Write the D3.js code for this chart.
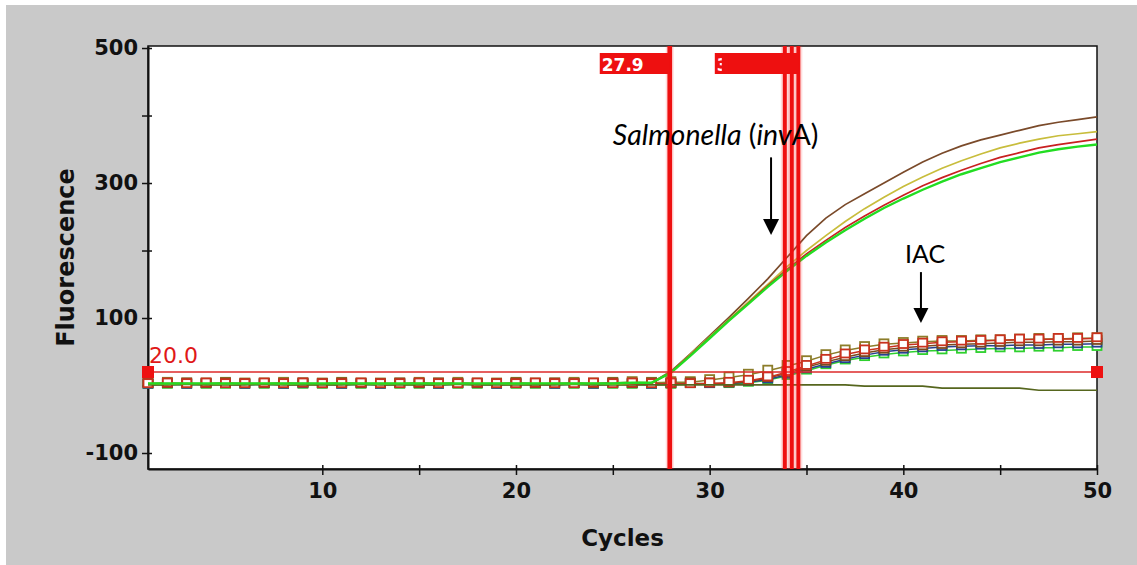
<!DOCTYPE html>
<html>
<head>
<meta charset="utf-8">
<script src="https://cdn.jsdelivr.net/npm/d3@7/dist/d3.min.js"></script>
<style>
  body { margin: 0; background: #fff; }
  svg { display: block; }
</style>
</head>
<body>
<div id="chart"></div>
<script>
// cycle numbers (x categories)
const cycles = [1,2,3,4,5,6,7,8,9,10,11,12,13,14,15,16,17,18,19,20,21,22,23,24,25,
  26,27,28,29,30,31,32,33,34,35,36,37,38,39,40,41,42,43,44,45,46,47,48,49,50];

// Salmonella (invA) channel, plain lines
const salmBrown = [3,2,3,2,2,3,2,2,3,2,2,3,2,2,3,2,2,2,3,2,2,3,2,3,3,3,4,
  21,47,74,101,129,158,190,222,248,268,284,300,316,331,344,355,364,371,378,385,390,394,398];
const salmYellow = [2,2,3,2,2,2,3,2,2,2,3,2,2,2,3,2,2,3,2,2,3,2,2,3,2,3,4,
  20,46,72,98,124,150,176,200,222,243,262,279,295,309,322,333,343,352,359,365,370,373,376];
const salmRed = [2,3,2,2,3,2,2,3,2,2,2,2,3,2,2,3,2,2,2,3,2,2,3,2,3,3,3,
  20,45,71,97,122,148,172,195,215,234,251,267,282,296,308,319,329,338,345,352,357,361,365];
const salmGreen = [3,3,3,3,3,3,3,3,3,3,3,3,3,3,3,3,3,3,3,3,3,3,3,3,3,4,4,
  19,44,70,96,121,146,170,192,212,230,247,263,277,290,302,313,322,331,338,345,350,354,357];
const negative = [1,1,2,1,1,1,2,1,1,1,1,2,1,1,1,1,2,1,1,1,1,1,2,1,1,1,1,1,1,1,1,1,1,
  1,1,1,1,-1,-1,-1,-1,-4,-4,-4,-4,-4,-7,-7,-7,-7];

// IAC channel, lines with square markers
const iacGreen = [1,1,1,1,1,1,1,1,1,1,1,1,1,1,1,1,1,1,1,1,1,1,1,1,1,1,1,1,2,2,2,
  4,8,14,22,30,37,42,46,49,51,52,53,54,55,55,56,56,57,57];
const iacBlue = [1,2,1,2,2,1,2,1,2,2,1,2,1,2,2,1,2,2,1,2,2,1,2,1,2,2,1,2,2,2,3,
  5,9,16,24,32,39,45,50,53,55,57,58,59,59,60,60,61,61,62];
const iacKhaki = [3,4,3,3,4,3,3,4,3,3,4,3,3,3,4,3,4,3,3,4,3,3,4,3,4,5,4,5,
  5,8,12,16,22,29,36,45,52,57,61,63,65,66,66,67,67,68,69,69,70,70];
const iacBrown = [2,2,3,2,3,2,2,2,3,2,3,2,2,3,2,3,2,2,2,3,2,3,2,2,3,2,3,2,3,3,3,
  6,11,18,27,35,42,48,53,56,58,60,61,62,63,64,64,65,65,66];
const iacRed = [2,3,2,3,2,2,3,2,3,2,2,3,2,2,3,2,2,3,2,2,3,2,2,3,2,3,2,3,2,3,
  4,7,12,20,29,38,46,52,56,60,62,64,65,66,67,68,68,69,69,70];

const threshold = 20.0;
const ctValues = [27.94, 33.88, 34.24, 34.58];
// only the first label of each overlapping group stays readable
const ctLabels = ["27.9", "33.9", "", ""];

const xTicks = [10, 15, 20, 25, 30, 35, 40, 45, 50];
const xTickLabels = [10, 20, 30, 40, 50];
const yTicks = [-100, 0, 100, 200, 300, 400, 500];
const yTickLabels = [-100, 100, 300, 500];

const width = 1137;
const height = 565;
const plot = { left: 148, right: 1097, top: 46, bottom: 469 };

const svg = d3.select("#chart").append("svg")
  .attr("width", width)
  .attr("height", height);

// grey window background
svg.append("rect")
  .attr("x", 6).attr("y", 5)
  .attr("width", width - 6).attr("height", height - 5)
  .attr("fill", "#c9c9c9");

svg.append("rect")
  .attr("x", plot.left).attr("y", plot.top)
  .attr("width", plot.right - plot.left).attr("height", plot.bottom - plot.top)
  .attr("fill", "#fff")
  .attr("stroke", "#111")
  .attr("stroke-width", 1.5);

const x = d3.scaleLinear().domain([1, 50]).range([plot.left, plot.right]);
const y = d3.scaleLinear().domain([-123.7, 503]).range([plot.bottom, plot.top]);

// AXES
const xAxis = d3.axisBottom(x)
  .tickValues(xTicks)
  .tickSizeInner(6).tickSizeOuter(0)
  .tickFormat(d => xTickLabels.includes(d) ? d : "");
const yAxis = d3.axisLeft(y)
  .tickValues(yTicks)
  .tickSizeInner(6).tickSizeOuter(0)
  .tickFormat(d => yTickLabels.includes(d) ? d : "");

const gx = svg.append("g")
  .attr("transform", `translate(0,${plot.bottom})`)
  .call(xAxis);
const gy = svg.append("g")
  .attr("transform", `translate(${plot.left},0)`)
  .call(yAxis);

[gx, gy].forEach(g => {
  g.select(".domain").attr("stroke", "#111").attr("stroke-width", 2);
  g.selectAll(".tick line").attr("stroke", "#111").attr("stroke-width", 1.5);
  g.selectAll(".tick text")
    .attr("fill", "#111")
    .attr("font-family", "DejaVu Sans")
    .attr("font-weight", "bold")
    .attr("font-size", 21);
});
// ticks cross the axis a little
gx.selectAll(".tick line").attr("y1", -4);
gx.selectAll(".tick text").attr("y", 14);
gy.selectAll(".tick line").attr("x1", 4);
gy.selectAll(".tick text").attr("x", -10);

svg.append("text")
  .attr("x", (plot.left + plot.right) / 2)
  .attr("y", 546)
  .attr("text-anchor", "middle")
  .attr("font-family", "DejaVu Sans")
  .attr("font-weight", "bold")
  .attr("font-size", 23)
  .attr("fill", "#111")
  .text("Cycles");

svg.append("text")
  .attr("transform", `translate(74,${(plot.top + plot.bottom) / 2}) rotate(-90)`)
  .attr("text-anchor", "middle")
  .attr("font-family", "DejaVu Sans")
  .attr("font-weight", "bold")
  .attr("font-size", 24)
  .attr("fill", "#111")
  .text("Fluorescence");

const line = d3.line()
  .x((d, i) => x(cycles[i]))
  .y(d => y(d));

const chart = svg.append("g");

// IAC series with open squares
const iacSeries = [
  { values: iacGreen, color: "#2ed02e" },
  { values: iacBlue, color: "#27408f" },
  { values: iacKhaki, color: "#8c7d2a" },
  { values: iacBrown, color: "#7a4a1e" },
  { values: iacRed, color: "#c8321e" }
];
iacSeries.forEach(s => {
  chart.append("path")
    .datum(s.values)
    .attr("d", line)
    .attr("fill", "none")
    .attr("stroke", s.color)
    .attr("stroke-width", 1.5);
  chart.selectAll(null)
    .data(s.values)
    .join("rect")
    .attr("x", (d, i) => x(cycles[i]) - 4.5)
    .attr("y", d => y(d) - 5)
    .attr("width", 9)
    .attr("height", 8)
    .attr("fill", "#fff")
    .attr("stroke", s.color)
    .attr("stroke-width", 1.8);
});

const salmSeries = [
  { values: negative, color: "#56661e", w: 1.7 },
  { values: salmBrown, color: "#7a4a2a", w: 1.7 },
  { values: salmYellow, color: "#c8bd3c", w: 1.7 },
  { values: salmRed, color: "#c82020", w: 1.7 },
  { values: salmGreen, color: "#22dd22", w: 2.4 }
];
salmSeries.forEach(s => {
  chart.append("path")
    .datum(s.values)
    .attr("d", line)
    .attr("fill", "none")
    .attr("stroke", s.color)
    .attr("stroke-width", s.w);
});

// threshold line with handles
svg.append("line")
  .attr("x1", x(1)).attr("x2", x(50))
  .attr("y1", y(threshold)).attr("y2", y(threshold))
  .attr("stroke", "#dd2a2a")
  .attr("stroke-width", 1.5);
svg.selectAll(".handle")
  .data([1, 50])
  .join("rect")
  .attr("class", "handle")
  .attr("x", d => x(d) - 6)
  .attr("y", y(threshold) - 6)
  .attr("width", 12).attr("height", 12)
  .attr("fill", "#ee1111");
svg.append("text")
  .attr("x", x(1) + 1)
  .attr("y", y(threshold) - 9)
  .attr("font-family", "DejaVu Sans")
  .attr("font-size", 22)
  .attr("fill", "#e01818")
  .text(threshold.toFixed(1));

// Ct lines and their labels (later boxes cover earlier ones)
ctValues.forEach((ct, i) => {
  const cx = x(ct);
  svg.append("line")
    .attr("x1", cx).attr("x2", cx)
    .attr("y1", plot.top).attr("y2", plot.bottom)
    .attr("stroke", "rgba(255,60,60,0.18)")
    .attr("stroke-width", 8);
  svg.append("line")
    .attr("x1", cx).attr("x2", cx)
    .attr("y1", plot.top).attr("y2", plot.bottom)
    .attr("stroke", "#ee1010")
    .attr("stroke-width", i === 0 ? 4.7 : 4);
  svg.append("rect")
    .attr("x", cx - 70).attr("y", 53)
    .attr("width", 70).attr("height", 21)
    .attr("fill", "#ee1010");
  if (ctLabels[i]) {
    svg.append("text")
      .attr("x", cx - 68).attr("y", 71)
      .attr("font-family", "DejaVu Sans")
      .attr("font-weight", "bold")
      .attr("font-size", 17)
      .attr("fill", "#fff")
      .text(ctLabels[i]);
  }
});

// annotations
const arrow = (xc, v0, v1, head) => {
  const x0 = x(xc);
  svg.append("line")
    .attr("x1", x0).attr("x2", x0)
    .attr("y1", y(v0)).attr("y2", y(v1) - head)
    .attr("stroke", "#000").attr("stroke-width", 2);
  svg.append("path")
    .attr("d", `M${x0 - head / 2},${y(v1) - head} L${x0 + head / 2},${y(v1) - head} L${x0},${y(v1)} Z`)
    .attr("fill", "#000");
};

const salmText = svg.append("text")
  .attr("x", x(25.0)).attr("y", y(356))
  .attr("font-family", "Lato")
  .attr("font-size", 28.5)
  .attr("fill", "#000");
salmText.append("tspan").attr("font-style", "italic").text("Salmonella");
salmText.append("tspan").text(" (");
salmText.append("tspan").attr("font-style", "italic").text("inv");
salmText.append("tspan").text("A)");
arrow(33.17, 338, 223, 16);

svg.append("text")
  .attr("x", x(40.09)).attr("y", y(181.5))
  .attr("font-family", "Lato")
  .attr("font-size", 25)
  .attr("fill", "#000")
  .text("IAC");
arrow(40.91, 168, 92.6, 15);
</script>
</body>
</html>
